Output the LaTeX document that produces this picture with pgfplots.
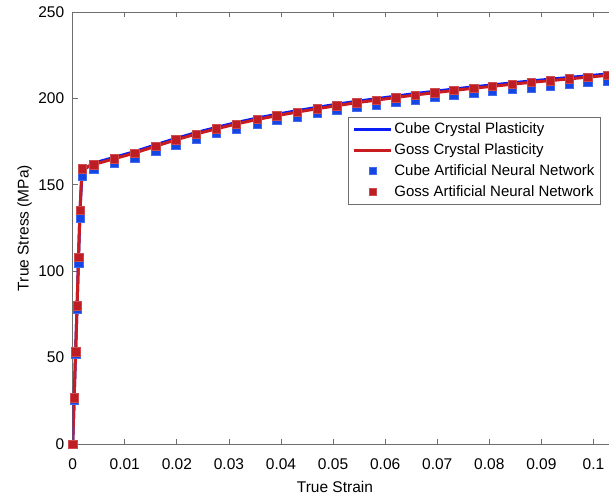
\documentclass[border=0pt]{standalone}
\usepackage{pgfplots}
\pgfplotsset{compat=1.18}
\usepackage{pgfplotstable}
\usepackage{fontspec}
\setmainfont{Liberation Sans}

\definecolor{cpblue}{RGB}{10,30,245}
\definecolor{cpred}{RGB}{200,28,32}
\definecolor{annblue}{RGB}{20,70,230}
\definecolor{annred}{RGB}{190,30,35}
\definecolor{axgray}{RGB}{110,110,110}

\pgfplotsset{
    linelegend/.style={legend image code/.code={\draw[##1] (0pt,0pt) -- (37pt,0pt);}},
    marklegend/.style={legend image code/.code={\draw[mark repeat=2, mark phase=2, mark size=3.6pt, ##1] plot coordinates {(0pt,0pt)(19pt,0pt)(38pt,0pt)};}},
}

% strain, Goss CP, Cube CP, Cube ANN, Goss ANN
\pgfplotstableread{
e        gosscp  cubecp  cubeann gossann
0        0       0       0       0
0.00028  26.8    26.8    25.6    26.8
0.00056  53.5    53.5    51.8    53.5
0.00084  80.0    80.0    78.0    80.0
0.00112  108.0   107.5   104.5   108.0
0.00140  135.3   134.5   131.0   135.3
0.00180  159.4   158.2   155.0   159.4
0.0040   161.7   162.5   159.0   161.7
0.0080   165.1   165.9   162.4   165.1
0.0119   168.4   169.2   165.7   168.4
0.0159   172.3   173.1   169.6   172.3
0.0198   176.0   176.8   173.3   176.0
0.0237   179.4   180.2   176.7   179.4
0.0276   182.4   183.2   179.7   182.4
0.0314   185.2   186.0   182.5   185.2
0.0354   187.8   188.6   185.1   187.8
0.0392   190.0   190.8   187.3   190.0
0.0431   192.1   192.9   189.4   192.1
0.0469   194.0   194.8   191.3   194.0
0.0507   195.8   196.6   193.1   195.8
0.0545   197.5   198.3   194.8   197.5
0.0583   199.0   199.8   196.3   199.0
0.0620   200.5   201.3   197.8   200.5
0.0658   202.0   202.8   199.3   202.0
0.0695   203.3   204.1   200.6   203.3
0.0732   204.6   205.4   201.8   204.6
0.0770   205.9   206.7   203.0   205.9
0.0806   207.0   207.8   204.1   207.0
0.0844   208.2   209.0   205.2   208.2
0.0880   209.3   210.1   206.3   209.3
0.0917   210.3   211.1   207.3   210.3
0.0953   211.3   212.1   208.3   211.3
0.0989   212.3   213.1   209.3   212.3
0.1026   213.3   214.1   210.3   213.3
}\datatable

\begin{document}
\begin{tikzpicture}
% picture is 609 x 500 pt, the axis runs off the right edge as in the figure
\useasboundingbox (0,0) rectangle (609pt,500pt);
\clip (0,0) rectangle (609pt,500pt);
\begin{axis}[
    at={(72.7pt,56pt)}, anchor=south west,
    scale only axis,
    width=552pt, height=432pt,
    xmin=0, xmax=0.106,
    ymin=0, ymax=250,
    xtick={0,0.01,0.02,0.03,0.04,0.05,0.06,0.07,0.08,0.09,0.1},
    xticklabels={0,0.01,0.02,0.03,0.04,0.05,0.06,0.07,0.08,0.09,0.1},
    ytick={0,50,100,150,200,250},
    /pgf/number format/assume math mode=true,
    tick align=inside,
    major tick length=5pt,
    tick style={axgray, line width=0.8pt},
    axis line style={axgray, line width=0.8pt},
    ticklabel style={font=\fontsize{15.5}{18}\selectfont},
    xticklabel style={yshift=-11pt},
    yticklabel style={xshift=-5pt},
    xlabel={True Strain},
    ylabel={True Stress (MPa)},
    label style={font=\fontsize{15.5}{18}\selectfont},
    xlabel style={at={(axis description cs:0.475,0)}, anchor=center, yshift=-43pt},
    ylabel style={at={(axis description cs:-0.087,0.5)}, anchor=center},
    legend cell align=left,
    legend style={at={(axis description cs:0.4987,0.7576)}, anchor=north west,
        font=\fontsize{15}{18}\selectfont, draw=axgray, line width=0.8pt,
        inner sep=4pt, row sep=4.5pt},
]
\addplot[cpblue, line width=3pt, no markers, linelegend]
    table[x=e, y=cubecp] {\datatable};
\addlegendentry{Cube Crystal Plasticity}
\addplot[cpred, line width=3pt, no markers, linelegend]
    table[x=e, y=gosscp] {\datatable};
\addlegendentry{Goss Crystal Plasticity}
\addplot[only marks, mark=square*, mark size=4.2pt,
    mark options={fill=annblue, draw=annblue!80!white, line width=0.4pt}, marklegend]
    table[x=e, y=cubeann] {\datatable};
\addlegendentry{Cube Artificial Neural Network}
\addplot[only marks, mark=square*, mark size=4.2pt,
    mark options={fill=annred, draw=annred!80!white, line width=0.4pt}, marklegend]
    table[x=e, y=gossann] {\datatable};
\addlegendentry{Goss Artificial Neural Network}
\end{axis}
\end{tikzpicture}
\end{document}
